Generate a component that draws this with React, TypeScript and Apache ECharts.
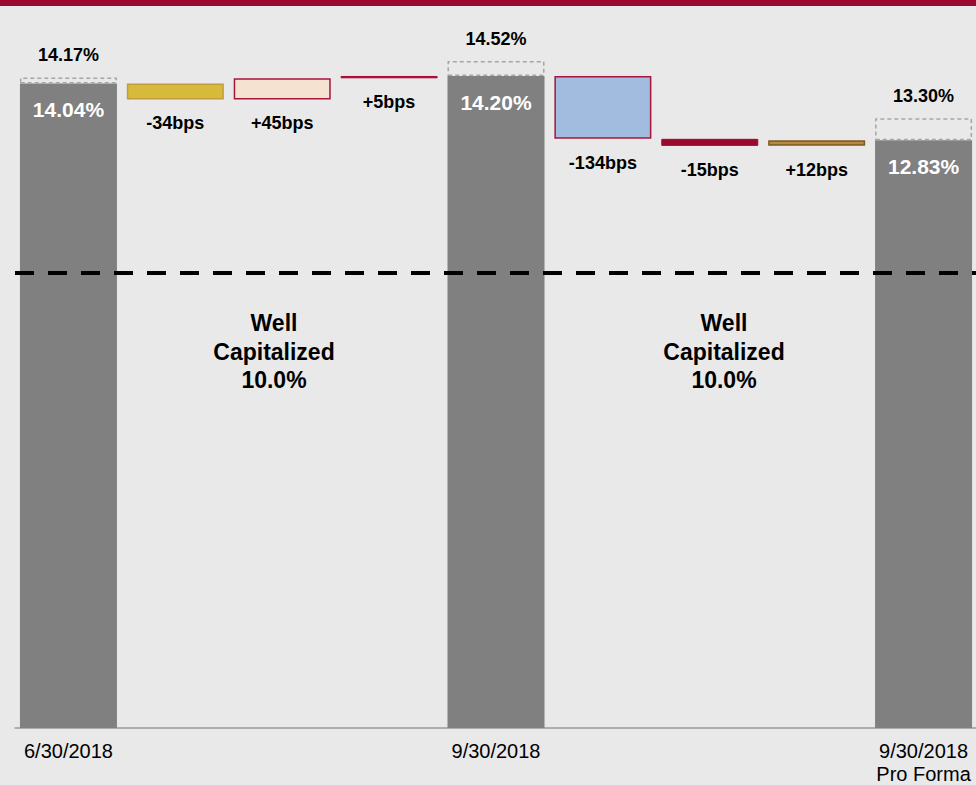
import React, { useEffect, useRef } from 'react';
import * as echarts from 'echarts';

// ---- data ----
const categories = ['6/30/2018', '', '', '', '9/30/2018', '', '', '', '9/30/2018\nPro Forma'];
// Reported totals (%), null where a change bar sits
const totals: (number | null)[] = [14.04, null, null, null, 14.2, null, null, null, 12.83];
// Changes in basis points, null where a total sits
const changesBps: (number | null)[] = [null, -34, 45, 5, null, -134, -15, 12, null];
// Dashed outline totals (%)
const ghostTotals: (number | null)[] = [14.17, null, null, null, 14.52, null, null, null, 13.3];
const wellCapitalized = 10.0;
const wellCapText = ['Well', 'Capitalized'];

// ---- styles ----
const changeStyles: any[] = [
  null,
  { color: '#D6BB3B', borderColor: '#C49B3C', borderWidth: 1.5 },
  { color: '#F5E2D0', borderColor: '#A6163C', borderWidth: 1.5 },
  { color: '#A20A33', borderColor: '#A20A33', borderWidth: 1 },
  null,
  { color: '#A2BCE0', borderColor: '#A6163C', borderWidth: 1.5 },
  { color: '#9B0A2E', borderColor: '#9B0A2E', borderWidth: 1 },
  { color: '#B8893E', borderColor: '#7A5A25', borderWidth: 1.5 },
  null,
];

const FONT = '"Liberation Sans", Arial, sans-serif';
const r2 = (v: number) => Math.round(v * 100) / 100;

// Build waterfall series from the data arrays
const offsets: any[] = [];
const changeHeights: any[] = [];
const totalData: any[] = [];
const ghostData: any[] = [];
(() => {
  let running = 0;
  for (let i = 0; i < categories.length; i++) {
    const t = totals[i];
    const c = changesBps[i];
    if (t != null) {
      running = t;
      totalData.push(t);
      offsets.push('-');
      changeHeights.push('-');
      const g = ghostTotals[i];
      ghostData.push(g != null ? r2(g - t) : '-');
    } else if (c != null) {
      const end = r2(running + c / 100);
      offsets.push(Math.min(running, end));
      changeHeights.push({ value: r2(Math.abs(c / 100)), itemStyle: changeStyles[i] });
      totalData.push('-');
      ghostData.push('-');
      running = end;
    }
  }
})();

export default function App() {
  const ref = useRef<HTMLDivElement>(null);
  useEffect(() => {
    if (!ref.current) return;
    const chart = echarts.init(ref.current, null, { renderer: 'svg' });
    const option: any = {
      animation: false,
      backgroundColor: '#E9E9E9',
      grid: {
        left: 15,
        right: -1,
        top: 15,
        bottom: 57,
        containLabel: false,
        outerBoundsMode: 'none',
      },
      xAxis: {
        type: 'category',
        data: categories,
        axisTick: { show: false },
        axisLine: { lineStyle: { color: '#9A9A9A', width: 1.5 } },
        axisLabel: {
          color: '#000',
          fontFamily: FONT,
          fontSize: 20,
          lineHeight: 22.5,
          margin: 12,
          interval: 0,
        },
      },
      yAxis: { type: 'value', min: 0.3, max: 15.5, show: false, splitLine: { show: false } },
      series: [
        {
          name: 'offset',
          type: 'bar',
          stack: 'w',
          barWidth: 97,
          silent: true,
          clip: true,
          itemStyle: { color: 'transparent' },
          data: offsets,
        },
        {
          name: 'total',
          type: 'bar',
          stack: 'w',
          barWidth: 97,
          clip: true,
          itemStyle: { color: '#808080' },
          label: {
            show: true,
            position: 'insideTop',
            distance: 16,
            color: '#fff',
            fontFamily: FONT,
            fontWeight: 'bold',
            fontSize: 21,
            formatter: (p: any) => `${Number(p.value).toFixed(2)}%`,
          },
          data: totalData,
          markLine: {
            silent: true,
            symbol: ['none', 'none'],
            label: { show: false },
            lineStyle: { color: '#000', width: 4, type: [19, 14] },
            data: [{ yAxis: wellCapitalized }],
            z: 10,
          },
        },
        {
          name: 'change',
          type: 'bar',
          stack: 'w',
          barWidth: 97,
          clip: true,
          label: {
            show: true,
            position: 'bottom',
            distance: 15,
            color: '#000',
            fontFamily: FONT,
            fontWeight: 'bold',
            fontSize: 18,
            formatter: (p: any) => {
              const c = changesBps[p.dataIndex] as number;
              return `${c > 0 ? '+' : ''}${c}bps`;
            },
          },
          data: changeHeights,
        },
        {
          name: 'ghost',
          type: 'bar',
          stack: 'w',
          barWidth: 97,
          clip: true,
          itemStyle: {
            color: 'transparent',
            borderColor: '#A6A6A6',
            borderWidth: 1.5,
            borderType: [4, 3],
          },
          label: {
            show: true,
            position: 'top',
            distance: 13,
            color: '#000',
            fontFamily: FONT,
            fontWeight: 'bold',
            fontSize: 18,
            formatter: (p: any) => `${(ghostTotals[p.dataIndex] as number).toFixed(2)}%`,
          },
          data: ghostData,
        },
      ],
      graphic: [
        { type: 'rect', left: 0, top: 0, shape: { width: 976, height: 6 }, style: { fill: '#9B0A2E' }, z: 100 },
        ...[274, 724].map((x) => ({
          type: 'text',
          x,
          y: 351.5,
          z: 100,
          style: {
            text: `${wellCapText.join('\n')}\n${wellCapitalized.toFixed(1)}%`,
            fontFamily: FONT,
            fontWeight: 'bold',
            fontSize: 23,
            lineHeight: 28.5,
            fill: '#000',
            align: 'center',
            verticalAlign: 'middle',
            textAlign: 'center',
            textVerticalAlign: 'middle',
          },
        })),
      ],
    };
    chart.setOption(option);
    return () => chart.dispose();
  }, []);
  return (
    <div
      ref={ref}
      style={{ position: 'fixed', left: 0, top: 0, width: 976, height: 785 }}
    />
  );
}
